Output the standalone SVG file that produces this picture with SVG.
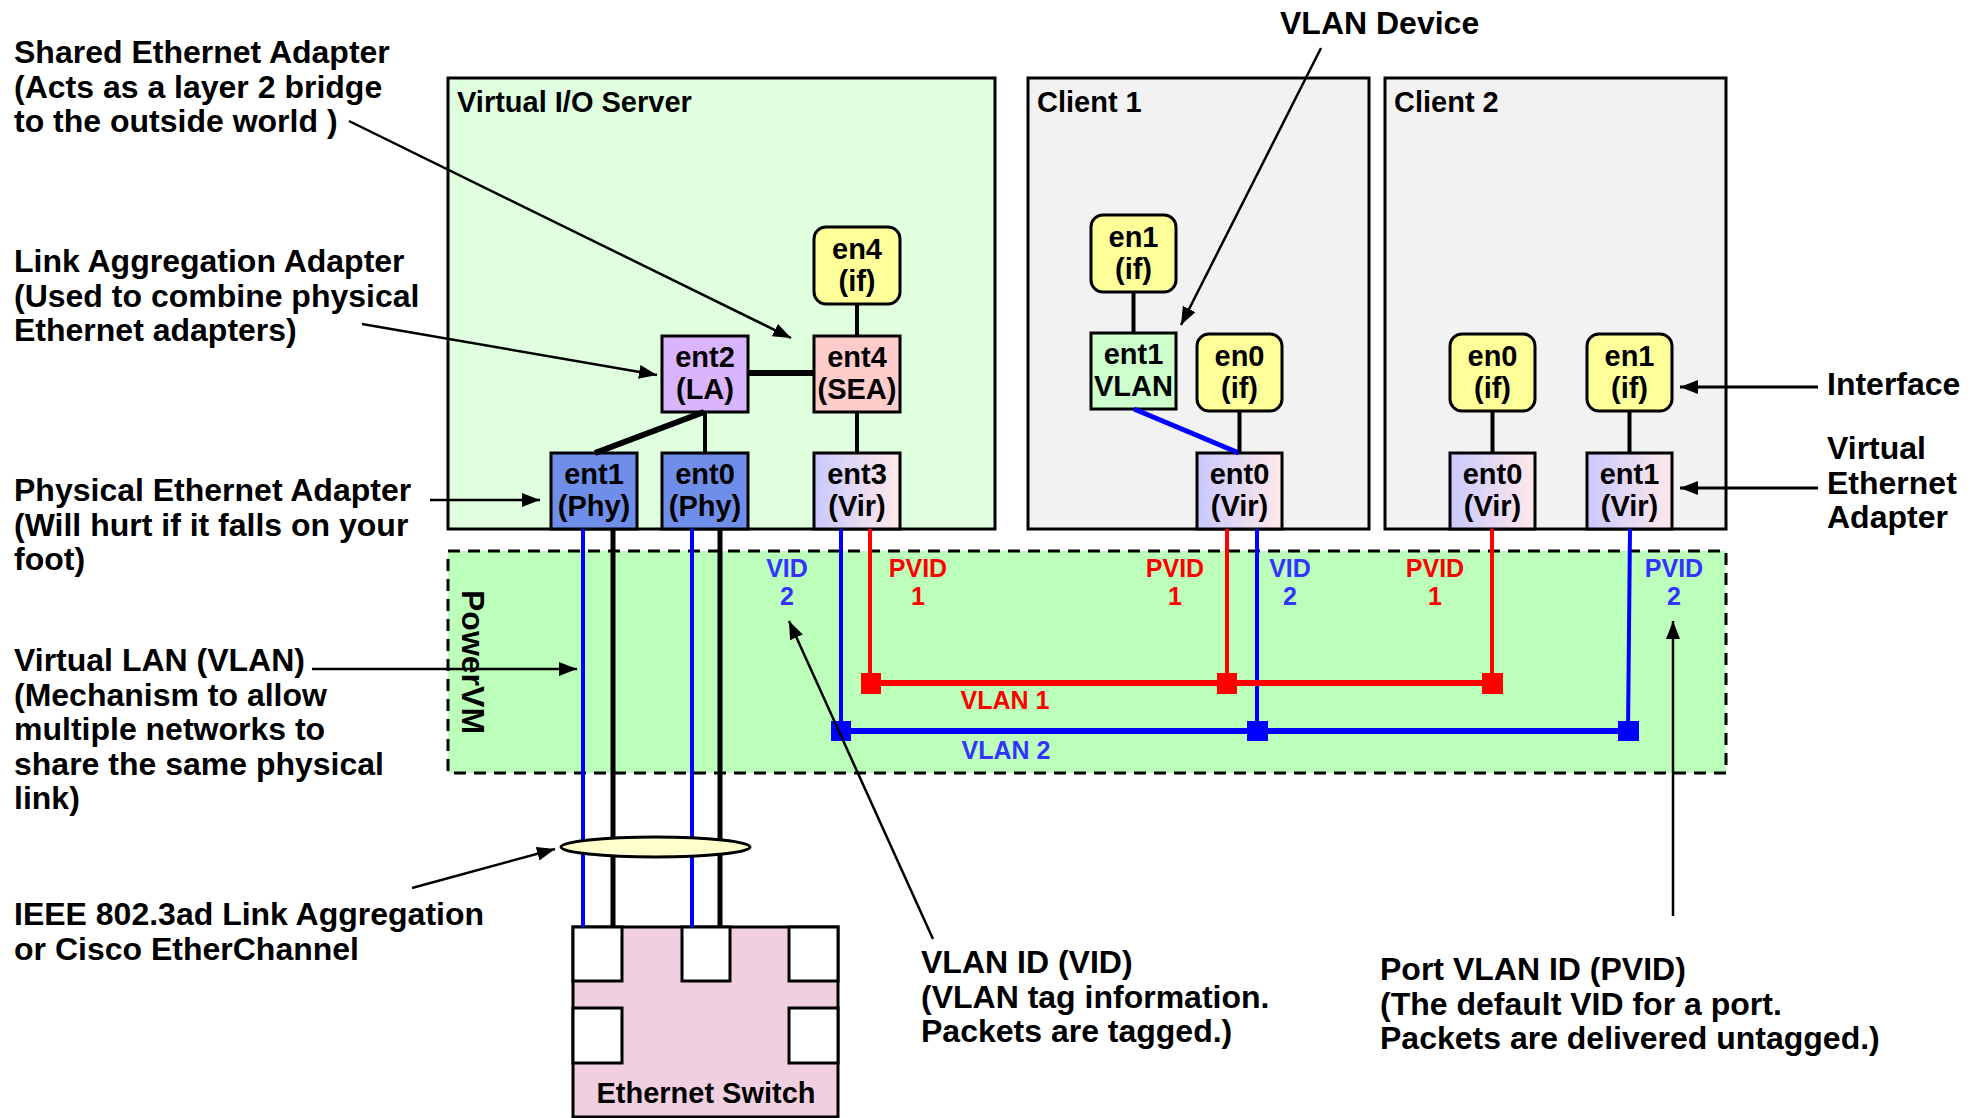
<svg xmlns="http://www.w3.org/2000/svg" width="1978" height="1118" viewBox="0 0 1978 1118">
<style>
text{font-family:"Liberation Sans",Arial,sans-serif;font-weight:bold;fill:#000}
.lbl{font-size:32px}
.ttl{font-size:29px}
.nt{font-size:29px;text-anchor:middle}
.tag{font-size:25px;text-anchor:middle}
.tb{fill:#3333ff}
.tr{fill:#ff0000}
.box{stroke:#000;stroke-width:3}
.ifc{fill:#ffff99;stroke:#000;stroke-width:3}
.vir{fill:url(#virg);stroke:#000;stroke-width:3}
.phy{fill:#6f8ee9;stroke:#000;stroke-width:3}
.k{stroke:#000;fill:none}
.bl{stroke:#0000ff;fill:none}
.rd{stroke:#ff0000;fill:none}
.ann{stroke:#000;stroke-width:2.5;fill:none;marker-end:url(#ah)}
.ann3{stroke:#000;stroke-width:3;fill:none;marker-end:url(#ah)}
.port{fill:#fff;stroke:#000;stroke-width:3}
</style>
<defs>
<linearGradient id="virg" x1="0" y1="0" x2="1" y2="0">
<stop offset="0" stop-color="#c9c9ff"/>
<stop offset="1" stop-color="#ffe8e8"/>
</linearGradient>
<marker id="ah" markerUnits="userSpaceOnUse" markerWidth="20" markerHeight="16" refX="18" refY="7" orient="auto">
<path d="M0,0 L18,7 L0,14 Z" fill="#000"/>
</marker>
</defs>

<g id="vios">
<rect class="box" x="448" y="78" width="547" height="451" fill="#dfffdf"/>
<text class="ttl" x="457" y="112">Virtual I/O Server</text>
</g>
<g id="client1">
<rect class="box" x="1028" y="78" width="341" height="451" fill="#f2f2f2"/>
<text class="ttl" x="1037" y="112">Client 1</text>
</g>
<g id="client2">
<rect class="box" x="1385" y="78" width="341" height="451" fill="#f2f2f2"/>
<text class="ttl" x="1394" y="112">Client 2</text>
</g>
<g id="powervm">
<rect x="448" y="551" width="1278" height="222" fill="#bbffbb" stroke="#000" stroke-width="3" stroke-dasharray="12,8"/>
<text class="lbl" transform="translate(462,590) rotate(90)">PowerVM</text>
</g>

<g id="vios-en4"><rect class="ifc" x="814" y="227" width="86" height="77" rx="12"/><text class="nt" x="857" y="259">en4</text><text class="nt" x="857" y="291">(if)</text></g>
<g id="vios-ent4"><rect class="box" x="814" y="336" width="86" height="76" fill="#ffcccc"/><text class="nt" x="857" y="367">ent4</text><text class="nt" x="857" y="399">(SEA)</text></g>
<g id="vios-ent2"><rect class="box" x="662" y="336" width="86" height="76" fill="#d9b4ff"/><text class="nt" x="705" y="367">ent2</text><text class="nt" x="705" y="399">(LA)</text></g>
<g id="vios-ent1"><rect class="phy" x="551" y="453" width="86" height="76"/><text class="nt" x="594" y="484">ent1</text><text class="nt" x="594" y="516">(Phy)</text></g>
<g id="vios-ent0"><rect class="phy" x="662" y="453" width="86" height="76"/><text class="nt" x="705" y="484">ent0</text><text class="nt" x="705" y="516">(Phy)</text></g>
<g id="vios-ent3"><rect class="vir" x="814" y="453" width="86" height="76"/><text class="nt" x="857" y="484">ent3</text><text class="nt" x="857" y="516">(Vir)</text></g>

<g id="c1-en1"><rect class="ifc" x="1091" y="215" width="85" height="77" rx="12"/><text class="nt" x="1133.5" y="247">en1</text><text class="nt" x="1133.5" y="279">(if)</text></g>
<g id="c1-ent1"><rect class="box" x="1091" y="333" width="85" height="76" fill="#ccffcc"/><text class="nt" x="1133.5" y="364">ent1</text><text class="nt" x="1133.5" y="396">VLAN</text></g>
<g id="c1-en0"><rect class="ifc" x="1197" y="334" width="85" height="77" rx="12"/><text class="nt" x="1239.5" y="366">en0</text><text class="nt" x="1239.5" y="398">(if)</text></g>
<g id="c1-ent0"><rect class="vir" x="1197" y="453" width="85" height="76"/><text class="nt" x="1239.5" y="484">ent0</text><text class="nt" x="1239.5" y="516">(Vir)</text></g>

<g id="c2-en0"><rect class="ifc" x="1450" y="334" width="85" height="77" rx="12"/><text class="nt" x="1492.5" y="366">en0</text><text class="nt" x="1492.5" y="398">(if)</text></g>
<g id="c2-en1"><rect class="ifc" x="1587" y="334" width="85" height="77" rx="12"/><text class="nt" x="1629.5" y="366">en1</text><text class="nt" x="1629.5" y="398">(if)</text></g>
<g id="c2-ent0"><rect class="vir" x="1450" y="453" width="85" height="76"/><text class="nt" x="1492.5" y="484">ent0</text><text class="nt" x="1492.5" y="516">(Vir)</text></g>
<g id="c2-ent1"><rect class="vir" x="1587" y="453" width="85" height="76"/><text class="nt" x="1629.5" y="484">ent1</text><text class="nt" x="1629.5" y="516">(Vir)</text></g>

<g id="switch">
<rect x="573" y="927" width="265" height="190" fill="#f0d0e0" stroke="#000" stroke-width="3"/>
<rect class="port" x="573" y="927" width="49" height="54"/>
<rect class="port" x="682" y="927" width="48" height="54"/>
<rect class="port" x="789" y="927" width="49" height="54"/>
<rect class="port" x="573" y="1008" width="49" height="55"/>
<rect class="port" x="789" y="1008" width="49" height="55"/>
<text class="nt" x="706" y="1103">Ethernet Switch</text>
</g>

<g id="connectors">
<line class="k" x1="857" y1="304" x2="857" y2="336" stroke-width="4"/>
<line class="k" x1="748" y1="373" x2="814" y2="373" stroke-width="6"/>
<line class="k" x1="705" y1="412" x2="705" y2="453" stroke-width="4"/>
<line class="k" x1="704" y1="412" x2="595" y2="453" stroke-width="6"/>
<line class="k" x1="857" y1="412" x2="857" y2="453" stroke-width="4"/>
<line class="k" x1="1133.5" y1="292" x2="1133.5" y2="333" stroke-width="4"/>
<line class="bl" x1="1134" y1="409" x2="1239" y2="453" stroke-width="5"/>
<line class="k" x1="1239.5" y1="411" x2="1239.5" y2="453" stroke-width="4"/>
<line class="k" x1="1492.5" y1="411" x2="1492.5" y2="453" stroke-width="4"/>
<line class="k" x1="1629.5" y1="411" x2="1629.5" y2="453" stroke-width="4"/>

<line class="bl" x1="583" y1="529" x2="583" y2="927" stroke-width="4"/>
<line class="k" x1="613" y1="529" x2="613" y2="927" stroke-width="5"/>
<line class="bl" x1="692" y1="529" x2="692" y2="927" stroke-width="4"/>
<line class="k" x1="720" y1="529" x2="720" y2="927" stroke-width="5"/>

<line class="bl" x1="841" y1="529" x2="841" y2="731" stroke-width="4"/>
<line class="rd" x1="870" y1="529" x2="870" y2="683" stroke-width="4"/>
<line class="rd" x1="1227" y1="529" x2="1227" y2="683" stroke-width="4"/>
<line class="bl" x1="1257" y1="529" x2="1257" y2="731" stroke-width="4"/>
<line class="rd" x1="1492" y1="529" x2="1492" y2="683" stroke-width="4"/>
<line class="bl" x1="1630" y1="529" x2="1628" y2="731" stroke-width="4"/>
<line class="rd" x1="870" y1="683" x2="1492" y2="683" stroke-width="6"/>
<line class="bl" x1="841" y1="731" x2="1628" y2="731" stroke-width="6"/>
<rect x="861" y="673" width="20" height="21" fill="#ff0000"/>
<rect x="1217" y="673" width="20" height="21" fill="#ff0000"/>
<rect x="1482" y="673" width="21" height="21" fill="#ff0000"/>
<rect x="831" y="721" width="20" height="20" fill="#0000ff"/>
<rect x="1247" y="721" width="21" height="20" fill="#0000ff"/>
<rect x="1618" y="721" width="21" height="20" fill="#0000ff"/>

<ellipse cx="655.5" cy="847" rx="94.5" ry="10" fill="#ffffcc" stroke="#000" stroke-width="3"/>

<line class="ann" x1="349" y1="121" x2="791" y2="338"/>
<line class="ann" x1="362" y1="324" x2="657" y2="375"/>
<line class="ann" x1="430" y1="500" x2="540" y2="500"/>
<line class="ann" x1="312" y1="669" x2="577" y2="669"/>
<line class="ann" x1="412" y1="888" x2="555" y2="849"/>
<line class="ann" x1="933" y1="939" x2="789" y2="621"/>
<line class="ann" x1="1673" y1="916" x2="1673" y2="621"/>
<line class="ann" x1="1321" y1="48" x2="1181" y2="325"/>
<line class="ann3" x1="1818" y1="387" x2="1680" y2="387"/>
<line class="ann3" x1="1818" y1="488" x2="1680" y2="488"/>
</g>

<g id="tags">
<text class="tag tb" x="787" y="577">VID</text><text class="tag tb" x="787" y="605">2</text>
<text class="tag tr" x="918" y="577">PVID</text><text class="tag tr" x="918" y="605">1</text>
<text class="tag tr" x="1175" y="577">PVID</text><text class="tag tr" x="1175" y="605">1</text>
<text class="tag tb" x="1290" y="577">VID</text><text class="tag tb" x="1290" y="605">2</text>
<text class="tag tr" x="1435" y="577">PVID</text><text class="tag tr" x="1435" y="605">1</text>
<text class="tag tb" x="1674" y="577">PVID</text><text class="tag tb" x="1674" y="605">2</text>
<text class="tag tr" x="1005" y="709">VLAN 1</text>
<text class="tag tb" x="1006" y="759">VLAN 2</text>
</g>

<g id="labels">
<text class="lbl" x="14" y="63">Shared Ethernet Adapter<tspan x="14" dy="34.5">(Acts as a layer 2 bridge</tspan><tspan x="14" dy="34.5">to the outside world )</tspan></text>
<text class="lbl" x="14" y="272">Link Aggregation Adapter<tspan x="14" dy="34.5">(Used to combine physical</tspan><tspan x="14" dy="34.5">Ethernet adapters)</tspan></text>
<text class="lbl" x="14" y="501">Physical Ethernet Adapter<tspan x="14" dy="34.5">(Will hurt if it falls on your</tspan><tspan x="14" dy="34.5">foot)</tspan></text>
<text class="lbl" x="14" y="671">Virtual LAN (VLAN)<tspan x="14" dy="34.5">(Mechanism to allow</tspan><tspan x="14" dy="34.5">multiple networks to</tspan><tspan x="14" dy="34.5">share the same physical</tspan><tspan x="14" dy="34.5">link)</tspan></text>
<text class="lbl" x="14" y="925">IEEE 802.3ad Link Aggregation<tspan x="14" dy="34.5">or Cisco EtherChannel</tspan></text>
<text class="lbl" x="921" y="973">VLAN ID (VID)<tspan x="921" dy="34.5">(VLAN tag information.</tspan><tspan x="921" dy="34.5">Packets are tagged.)</tspan></text>
<text class="lbl" x="1380" y="980">Port VLAN ID (PVID)<tspan x="1380" dy="34.5">(The default VID for a port.</tspan><tspan x="1380" dy="34.5">Packets are delivered untagged.)</tspan></text>
<text class="lbl" x="1280" y="34">VLAN Device</text>
<text class="lbl" x="1827" y="395">Interface</text>
<text class="lbl" x="1827" y="459">Virtual<tspan x="1827" dy="34.5">Ethernet</tspan><tspan x="1827" dy="34.5">Adapter</tspan></text>
</g>
</svg>
